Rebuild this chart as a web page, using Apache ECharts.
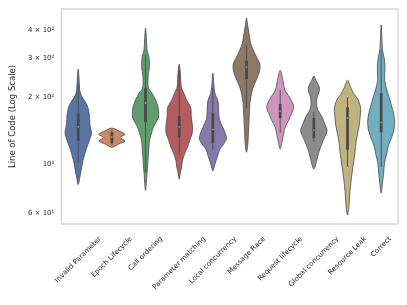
<!DOCTYPE html>
<html>
<head>
<meta charset="utf-8">
<script src="https://cdn.jsdelivr.net/npm/echarts@6/dist/echarts.min.js"></script>
<style>html,body{margin:0;padding:0;background:#fff}#c{width:407px;height:305px}</style>
</head>
<body>
<div id="c"></div>
<script>
// ---- data ----
const categories = ['Invalid Parameter', 'Epoch Lifecycle', 'Call ordering', 'Parameter matching',
  'Local concurrency', 'Message Race', 'Request lifecycle', 'Global concurrency', 'Resource Leak', 'Correct'];

// violin outlines: [lines of code, relative density]
const invalidParameter = [[267,0],[238,0.07],[215,0.11],[204,0.22],[194,0.43],[182,0.69],[166,0.83],[150,0.87],[138,0.98],[128,0.83],[116,0.58],[104,0.36],[94,0.22],[86.5,0.11],[81,0]];
const epochLifecycle = [[145,0],[141,0.5],[136,0.98],[131.5,0.6],[127,0.98],[123,0.5],[119,0]];
const callOrdering = [[408,0],[361,0.07],[325,0.11],[302,0.25],[287,0.29],[270,0.28],[251,0.2],[233,0.18],[219,0.22],[208,0.48],[194,0.75],[180,0.93],[169,0.98],[161,0.95],[147,0.6],[138,0.45],[128,0.3],[119,0.25],[104,0.18],[91,0.11],[82,0.06],[76,0]];
const parameterMatching = [[281,0],[251,0.1],[222,0.15],[208,0.35],[194,0.55],[180,0.85],[163,0.9],[147,0.99],[138,0.97],[128,0.78],[119,0.62],[112,0.42],[104,0.25],[97,0.18],[91,0.08],[85.6,0]];
const localConcurrency = [[256,0],[226,0.08],[208,0.15],[194,0.35],[182,0.42],[169,0.43],[158,0.5],[147,0.72],[136,0.95],[129.5,1.0],[121.7,0.75],[116,0.5],[108.6,0.35],[102,0.2],[97,0.1],[93,0]];
const messageRace = [[453,0],[421,0.08],[388,0.18],[350,0.3],[325,0.5],[302,0.75],[284,0.97],[270,1.0],[256,0.92],[238,0.72],[222,0.5],[208,0.38],[188,0.25],[163,0.2],[138,0.14],[124,0.1],[113,0]];
const requestLifecycle = [[264,0],[238,0.2],[215,0.35],[200,0.68],[186,0.95],[178,1.0],[169,0.85],[158,0.65],[147,0.38],[136,0.25],[127,0.15],[117,0]];
const globalConcurrency = [[249,0],[238,0.15],[226,0.35],[219,0.42],[210,0.38],[200,0.25],[186,0.2],[175,0.3],[163,0.6],[153,0.78],[141,0.98],[128,0.7],[119,0.5],[112,0.35],[104,0.22],[95,0]];
const resourceLeak = [[238,0],[222,0.22],[208,0.45],[194,0.8],[178,0.98],[166,0.95],[147,0.85],[128,0.65],[112,0.55],[97,0.4],[84.7,0.27],[74,0.17],[64,0.1],[59,0]];
const correct = [[421,0],[361,0.06],[325,0.1],[300,0.22],[278,0.28],[256,0.27],[238,0.26],[215,0.42],[194,0.65],[180,0.8],[168,0.93],[156,1.0],[145,0.97],[132,0.78],[121.7,0.55],[112,0.42],[101,0.25],[91,0.18],[82,0.1],[74,0]];

// inner box statistics
const q3 = [168, 139, 219, 164, 169, 290, 186, 161, 180, 208];
const medians = [147, 132, 188, 147, 143, 273, 173, 142, 161, 154];
const q1 = [127, 124, 154, 132, 124, 241, 161, 131, 116, 139];
const whiskerHigh = [228, 141, 309, 264, 219, 342, 215, 171, 200, 325];
const whiskerLow = [101, 122, 92, 110, 116, 178, 138, 126, 97, 97];

const yTickValues = [60, 100, 200, 300, 400];
const yTickLabels = ['6 × 10¹', '10²', '2 × 10²', '3 × 10²', '4 × 10²'];
const yTitle = 'Line of Code (Log Scale)';

// ---- presentation ----
const profiles = [invalidParameter, epochLifecycle, callOrdering, parameterMatching, localConcurrency,
  messageRace, requestLifecycle, globalConcurrency, resourceLeak, correct];
const colors = ['#5975a4', '#cc8963', '#5f9e6e', '#b55d60', '#857aab', '#8d7866', '#d095bf', '#8c8c8c', '#c1b37f', '#71aec0'];
const FONT = 'DejaVu Sans';
const TEXT = '#262626';

const ctx = document.createElement('canvas').getContext('2d');
ctx.font = '7px "DejaVu Sans"';
const rich = {};
categories.forEach((c, i) => {
  const L = ctx.measureText(c).width;
  const p = (L + 8) / 2;
  rich['l' + i] = { fontSize: 7, fontFamily: FONT, color: TEXT, lineHeight: 8, padding: [p, p, 0, 0] };
});

function renderViolin(params, api) {
  const i = api.value(0);
  const prof = profiles[i];
  const band = api.size([1, 100])[0];
  const maxHalf = band * 0.4;
  const cx = api.coord([i, 100])[0];
  const right = prof.map(d => [cx + d[1] * maxHalf, api.coord([i, d[0]])[1]]);
  const inner = prof.slice(1, -1).reverse().map(d => [cx - d[1] * maxHalf, api.coord([i, d[0]])[1]]);
  const pts = right.concat(inner);
  const yQ3 = api.coord([i, q3[i]])[1];
  const yQ1 = api.coord([i, q1[i]])[1];
  const yWH = api.coord([i, whiskerHigh[i]])[1];
  const yWL = api.coord([i, whiskerLow[i]])[1];
  const yMed = api.coord([i, medians[i]])[1];
  return {
    type: 'group',
    children: [
      { type: 'polygon', shape: { points: pts, smooth: 0.3 },
        style: { fill: colors[i], stroke: '#4a4a4a', lineWidth: 0.8 } },
      { type: 'line', shape: { x1: cx, y1: yWH, x2: cx, y2: yWL },
        style: { stroke: '#474747', lineWidth: 0.9 } },
      { type: 'rect', shape: { x: cx - 1.35, y: yQ3, width: 2.7, height: yQ1 - yQ3 },
        style: { fill: '#474747' } },
      { type: 'circle', shape: { cx: cx, cy: yMed, r: 0.9 },
        style: { fill: '#ffffff', opacity: 0.45 } }
    ]
  };
}

const chart = echarts.init(document.getElementById('c'), null, { renderer: 'canvas' });
chart.setOption({
  animation: false,
  backgroundColor: '#ffffff',
  grid: { left: 57, right: 9, top: 9, bottom: 81, show: true, borderColor: '#d6d6d6', borderWidth: 1.4, backgroundColor: 'transparent' },
  xAxis: {
    type: 'category',
    data: categories,
    axisLine: { show: false },
    axisTick: { show: false },
    splitLine: { show: false },
    axisLabel: {
      interval: 0, rotate: 45, margin: 11, align: 'center', verticalAlign: 'middle',
      formatter: (v, idx) => '{l' + idx + '|' + v + '}',
      rich: rich
    }
  },
  yAxis: {
    type: 'log',
    logBase: 10,
    min: 53.8,
    max: 497,
    name: yTitle,
    nameLocation: 'middle',
    nameGap: 34,
    nameTextStyle: { fontSize: 8.5, fontFamily: FONT, color: TEXT },
    axisLine: { show: false },
    axisTick: { show: false },
    splitLine: { show: false },
    minorTick: { show: false },
    axisLabel: {
      customValues: yTickValues,
      margin: 7,
      fontSize: 7,
      fontFamily: FONT,
      color: TEXT,
      formatter: v => {
        const k = yTickValues.findIndex(t => Math.abs(t - v) / t < 1e-6);
        return k >= 0 ? yTickLabels[k] : '';
      }
    }
  },
  series: [{
    type: 'custom',
    renderItem: renderViolin,
    encode: { x: 0, y: 1 },
    data: categories.map((c, i) => [i, medians[i]]),
    z: 3
  }]
});
</script>
</body>
</html>
